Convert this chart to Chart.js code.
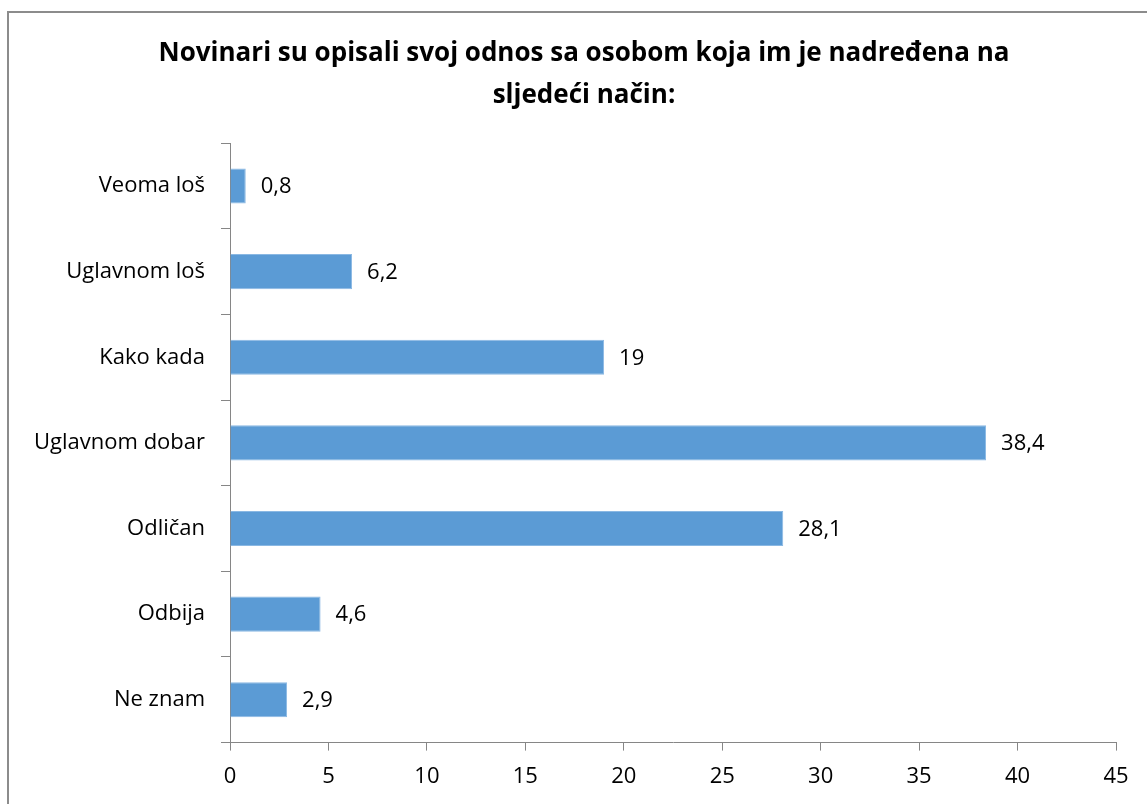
<!DOCTYPE html>
<html>
<head>
<meta charset="utf-8">
<script src="https://cdn.jsdelivr.net/npm/chart.js@4.4.1/dist/chart.umd.min.js"></script>
<style>
  body { margin: 0; background: #fff; overflow: hidden; }
  #frame {
    position: absolute; left: 7px; top: 11px; right: 0; bottom: 0;
    border-top: 2px solid #8c8c8c; border-left: 2px solid #8c8c8c;
  }
  #barChart { position: absolute; left: 0; top: 0; }
</style>
</head>
<body>
<div id="frame"></div>
<canvas id="barChart" width="1147" height="804"></canvas>
<script>
// data
const categories = ['Veoma loš', 'Uglavnom loš', 'Kako kada', 'Uglavnom dobar', 'Odličan', 'Odbija', 'Ne znam'];
const values = [0.8, 6.2, 19, 38.4, 28.1, 4.6, 2.9];
const xTicks = [0, 5, 10, 15, 20, 25, 30, 35, 40, 45];

const fontFam = "'Open Sans', 'DejaVu Sans', sans-serif";

// value labels at the end of each bar, comma decimal like the original
const valueLabels = {
  id: 'valueLabels',
  afterLayout(chart) {
    // title in the original is centred a bit right of the canvas middle
    if (chart.titleBlock) chart.titleBlock.left += 52;
  },
  afterDatasetsDraw(chart) {
    const ctx = chart.ctx;
    const meta = chart.getDatasetMeta(0);
    ctx.save();
    ctx.font = '22px ' + fontFam;
    ctx.fillStyle = '#000';
    ctx.textBaseline = 'middle';
    meta.data.forEach((bar, i) => {
      const txt = String(values[i]).replace('.', ',');
      ctx.fillText(txt, bar.x + 15, bar.y + 1);
    });
    ctx.restore();
  }
};

document.addEventListener("DOMContentLoaded", function () {
  const ctx = document.getElementById('barChart').getContext('2d');
  new Chart(ctx, {
    type: 'bar',
    data: {
      labels: categories,
      datasets: [{
        data: values,
        backgroundColor: '#5b9bd5',
        borderColor: '#8ab8e3',
        borderWidth: 1,
        categoryPercentage: 1,
        barPercentage: 0.41
      }]
    },
    options: {
      indexAxis: 'y',
      responsive: false,
      animation: false,
      devicePixelRatio: 1,
      layout: { padding: { left: 0, right: 31, top: 0, bottom: 1 } },
      plugins: {
        legend: { display: false },
        tooltip: { enabled: false },
        title: {
          display: true,
          text: ['Novinari su opisali svoj odnos sa osobom koja im je nadređena na', 'sljedeći način:'],
          color: '#000',
          font: { family: fontFam, size: 26, weight: 'bold', lineHeight: 1.6 },
          padding: { top: 33, bottom: 27 }
        }
      },
      scales: {
        x: {
          min: 0,
          max: 45,
          afterBuildTicks: s => { s.ticks = xTicks.map(v => ({ value: v })); },
          grid: { drawOnChartArea: false, tickLength: 8, color: '#868686' },
          border: { color: '#868686', width: 1 },
          ticks: { color: '#000', font: { family: fontFam, size: 22 }, padding: 13 }
        },
        y: {
          afterFit: s => { s.width = 230; },
          grid: { drawOnChartArea: false, offset: true, tickLength: 9, color: '#868686' },
          border: { color: '#868686', width: 1 },
          ticks: { color: '#000', font: { family: fontFam, size: 22 }, padding: 16 }
        }
      }
    },
    plugins: [valueLabels]
  });
});
</script>
</body>
</html>
